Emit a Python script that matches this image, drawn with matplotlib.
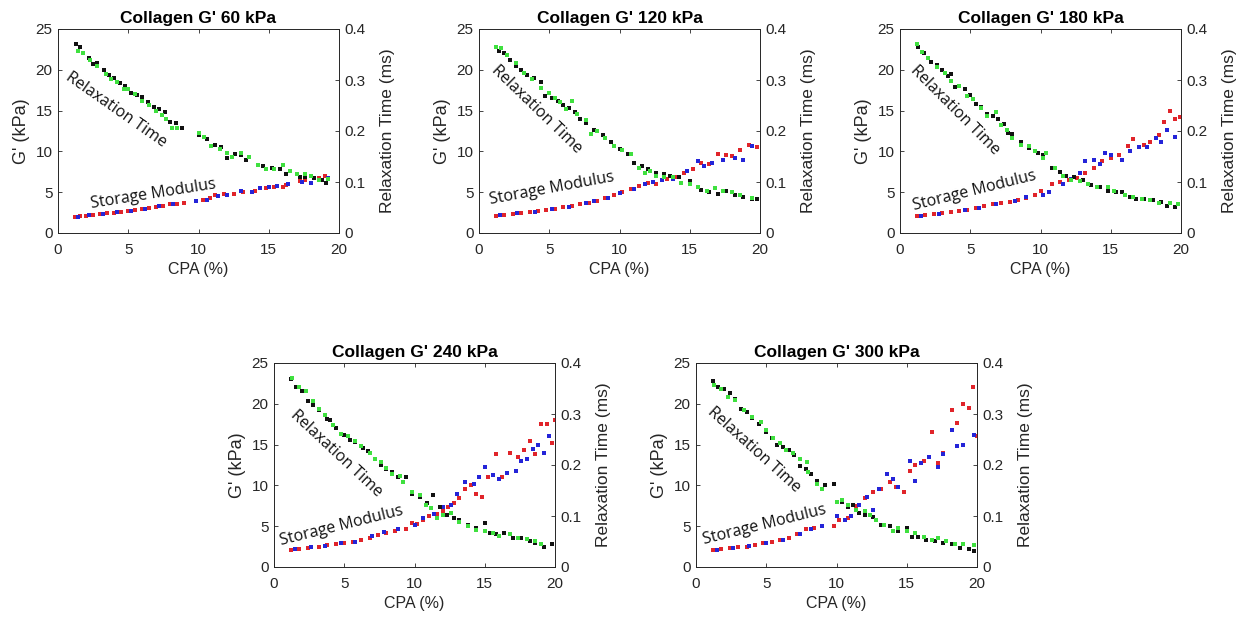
import matplotlib
matplotlib.use('Agg')
import matplotlib.pyplot as plt

plt.rcParams.update({
    'font.family': ['Liberation Sans', 'DejaVu Sans'],
    'font.size': 10,
    'axes.linewidth': 0.6,
    'xtick.direction': 'in',
    'ytick.direction': 'in',
})

C_RED = '#e0242a'
C_BLUE = '#2424d8'
C_GREEN = '#3fe03f'
C_BLACK = '#111111'
C_AX = '#262626'

TITLES = ["Collagen G' 60 kPa", "Collagen G' 120 kPa", "Collagen G' 180 kPa",
          "Collagen G' 240 kPa", "Collagen G' 300 kPa"]

# --- 60 kPa ---
P60_SM_RED_X = [1.2, 1.6, 2.0, 2.5, 3.0, 3.5, 4.0, 4.5, 5.0, 5.5, 6.0, 6.5, 7.0, 7.5, 8.0, 8.5, 9.0,
                10.3, 10.8, 11.2, 11.8, 12.5, 13.2, 14.0, 14.8, 15.4, 16.0, 16.2, 17.2, 17.6, 18.6, 19.0]
P60_SM_RED_Y = [2.0, 2.05, 2.1, 2.2, 2.3, 2.4, 2.5, 2.6, 2.7, 2.8, 2.95, 3.1, 3.2, 3.3, 3.5, 3.6, 3.7,
                4.0, 4.3, 4.6, 4.8, 4.8, 5.0, 5.2, 5.5, 5.6, 5.6, 5.9, 6.4, 6.5, 6.8, 7.0]
P60_SM_BLUE_X = [1.4, 2.2, 3.2, 4.2, 5.2, 6.2, 7.2, 8.2, 9.8, 10.6, 11.4, 12.0, 13.0, 13.8, 14.4,
                 15.0, 15.6, 16.4, 17.4, 18.0, 19.2]
P60_SM_BLUE_Y = [2.0, 2.15, 2.35, 2.55, 2.75, 3.0, 3.25, 3.6, 3.9, 4.1, 4.5, 4.7, 5.1, 5.0, 5.5,
                 5.6, 5.7, 6.0, 6.2, 6.1, 6.8]
P60_RT_BLACK_X = [1.3, 1.6, 2.2, 2.5, 2.8, 3.3, 3.6, 4.0, 4.4, 4.8, 5.2, 5.6, 6.0, 6.4, 6.8, 7.2, 7.6,
                  8.0, 8.4, 8.8, 10.0, 10.6, 11.2, 11.6, 12.0, 12.6, 13.0, 13.4, 14.6, 15.2, 15.8,
                  16.2, 17.2, 17.6, 18.2, 18.8, 19.1]
P60_RT_BLACK_Y = [0.370, 0.365, 0.344, 0.331, 0.333, 0.320, 0.309, 0.304, 0.294, 0.288, 0.275, 0.270,
                  0.267, 0.256, 0.248, 0.243, 0.237, 0.218, 0.216, 0.205, 0.192, 0.184, 0.173, 0.168,
                  0.147, 0.155, 0.152, 0.144, 0.131, 0.128, 0.125, 0.115, 0.109, 0.109, 0.107, 0.104,
                  0.099]
P60_RT_GREEN_X = [1.4, 1.8, 2.3, 2.8, 3.4, 3.8, 4.2, 4.7, 5.0, 5.5, 6.0, 6.5, 7.0, 7.4, 7.7, 8.1, 8.5,
                  10.0, 10.4, 10.9, 11.5, 12.0, 12.4, 13.0, 13.6, 14.2, 14.8, 15.4, 16.0, 16.5, 17.0,
                  17.6, 18.0, 18.6, 19.2]
P60_RT_GREEN_Y = [0.357, 0.352, 0.339, 0.328, 0.312, 0.301, 0.296, 0.282, 0.282, 0.272, 0.259, 0.251,
                  0.240, 0.232, 0.224, 0.205, 0.206, 0.197, 0.189, 0.170, 0.165, 0.157, 0.150, 0.157,
                  0.149, 0.134, 0.125, 0.126, 0.133, 0.122, 0.115, 0.115, 0.112, 0.104, 0.106]

# --- 120 kPa ---
P120_SM_RED_X = [1.2, 1.8, 2.4, 3.0, 3.6, 4.2, 4.8, 5.4, 6.0, 6.6, 7.2, 7.8, 8.4, 9.0, 9.6, 10.2, 10.8,
                 11.4, 12.0, 12.6, 13.4, 14.0, 14.6, 15.2, 15.8, 16.4, 17.0, 17.6, 18.0, 18.6, 19.2, 19.8]
P120_SM_RED_Y = [2.1, 2.2, 2.3, 2.45, 2.55, 2.65, 2.8, 2.95, 3.15, 3.3, 3.5, 3.7, 3.9, 4.3, 4.6, 5.0, 5.4,
                 5.7, 6.1, 6.0, 6.6, 6.9, 7.3, 7.8, 8.6, 8.5, 9.7, 9.5, 9.4, 10.2, 10.8, 10.6]
P120_SM_BLUE_X = [1.5, 2.7, 4.0, 5.2, 6.4, 7.6, 8.2, 9.2, 10.0, 11.0, 11.8, 12.4, 13.0, 13.8, 14.8,
                  15.6, 16.0, 16.6, 17.4, 18.2, 18.8, 19.4]
P120_SM_BLUE_Y = [2.15, 2.4, 2.6, 2.9, 3.2, 3.7, 3.9, 4.3, 4.9, 5.4, 6.0, 6.2, 6.5, 6.6, 7.6,
                  8.8, 8.2, 8.6, 9.0, 9.2, 9.0, 10.7]
P120_RT_BLACK_X = [1.4, 1.8, 2.2, 2.6, 3.0, 3.4, 3.9, 4.4, 4.7, 5.2, 5.6, 6.0, 6.4, 6.8, 7.2, 7.6, 8.2,
                   8.8, 9.4, 10.0, 10.6, 11.0, 11.6, 12.0, 12.6, 13.2, 13.6, 14.2, 15.0, 15.8, 16.4,
                   17.0, 17.6, 18.2, 18.8, 19.4, 19.8]
P120_RT_BLACK_Y = [0.357, 0.352, 0.339, 0.328, 0.320, 0.309, 0.304, 0.296, 0.269, 0.264, 0.259, 0.251,
                   0.245, 0.237, 0.224, 0.216, 0.202, 0.192, 0.179, 0.165, 0.154, 0.138, 0.131, 0.125,
                   0.117, 0.115, 0.112, 0.109, 0.101, 0.085, 0.080, 0.077, 0.082, 0.074, 0.070, 0.067,
                   0.067]
P120_RT_GREEN_X = [1.2, 1.6, 2.0, 2.6, 3.2, 3.8, 4.4, 5.0, 5.4, 5.8, 6.2, 6.6, 7.0, 7.6, 8.0, 8.4, 9.0,
                   9.6, 10.2, 10.8, 11.4, 11.8, 12.2, 12.6, 13.2, 13.8, 14.4, 15.0, 15.6, 16.2, 16.8,
                   17.4, 18.0, 18.6, 19.4]
P120_RT_GREEN_Y = [0.365, 0.362, 0.349, 0.333, 0.314, 0.301, 0.285, 0.275, 0.264, 0.256, 0.243, 0.259,
                   0.234, 0.222, 0.195, 0.200, 0.186, 0.170, 0.163, 0.154, 0.128, 0.118, 0.122, 0.112,
                   0.109, 0.110, 0.099, 0.096, 0.090, 0.083, 0.088, 0.082, 0.080, 0.074, 0.069]

# --- 180 kPa ---
P180_SM_RED_X = [1.2, 1.8, 2.4, 3.0, 3.6, 4.2, 4.8, 5.4, 6.0, 6.6, 7.2, 7.8, 8.4, 9.0, 9.6, 10.0, 10.8,
                 11.4, 12.0, 12.6, 13.2, 13.8, 14.4, 15.0, 15.6, 16.2, 16.6, 17.4, 17.8, 18.4, 18.8,
                 19.2, 19.6, 19.9]
P180_SM_RED_Y = [2.05, 2.15, 2.3, 2.4, 2.55, 2.7, 2.85, 3.1, 3.3, 3.5, 3.7, 3.8, 4.1, 4.3, 4.7, 5.1, 6.0,
                 6.2, 6.5, 6.8, 7.4, 8.0, 8.8, 9.2, 9.6, 10.7, 11.5, 10.8, 11.2, 12.0, 13.6,
                 15.0, 14.0, 14.2]
P180_SM_BLUE_X = [1.5, 2.8, 4.6, 5.6, 6.8, 8.2, 9.0, 10.2, 10.6, 11.6, 12.2, 12.8, 13.2, 13.8, 14.2,
                  14.6, 15.0, 15.8, 16.4, 17.0, 17.6, 18.2, 18.6, 19.0, 19.6]
P180_SM_BLUE_Y = [2.1, 2.35, 2.8, 3.1, 3.5, 3.9, 4.4, 4.6, 5.0, 6.0, 6.6, 7.3, 8.8, 9.0, 8.5,
                  9.8, 9.6, 9.0, 10.0, 10.6, 10.5, 11.6, 11.2, 12.6, 11.8]
P180_RT_BLACK_X = [1.3, 1.7, 2.2, 2.6, 3.0, 3.4, 3.6, 3.9, 4.6, 5.0, 5.4, 5.8, 6.2, 6.6, 7.0, 7.4, 7.7,
                   8.0, 8.6, 9.2, 9.8, 10.2, 10.8, 11.4, 11.8, 12.4, 13.0, 13.6, 14.2, 14.8, 15.4,
                   15.8, 16.4, 16.8, 17.4, 18.0, 18.6, 19.0, 19.6]
P180_RT_BLACK_Y = [0.365, 0.352, 0.336, 0.330, 0.320, 0.307, 0.312, 0.286, 0.282, 0.270, 0.253, 0.248,
                   0.234, 0.229, 0.224, 0.214, 0.197, 0.195, 0.178, 0.166, 0.157, 0.152, 0.128, 0.120,
                   0.112, 0.109, 0.104, 0.094, 0.090, 0.083, 0.080, 0.080, 0.070, 0.067, 0.067, 0.064,
                   0.061, 0.053, 0.051]
P180_RT_GREEN_X = [1.2, 1.6, 2.0, 2.6, 3.2, 3.6, 4.2, 4.8, 5.2, 5.8, 6.2, 6.8, 7.2, 7.6, 8.0, 8.6, 9.2,
                   9.6, 10.2, 10.4, 11.0, 11.6, 12.2, 12.8, 13.4, 14.0, 14.8, 15.2, 16.0, 16.6, 17.2,
                   17.8, 18.4, 19.2, 19.8]
P180_RT_GREEN_Y = [0.371, 0.355, 0.344, 0.326, 0.314, 0.298, 0.288, 0.269, 0.262, 0.246, 0.229, 0.238,
                   0.211, 0.202, 0.186, 0.173, 0.170, 0.160, 0.147, 0.157, 0.128, 0.112, 0.104, 0.102,
                   0.096, 0.090, 0.091, 0.083, 0.074, 0.070, 0.066, 0.064, 0.059, 0.058, 0.056]

# --- 240 kPa ---
P240_SM_RED_X = [1.2, 1.8, 2.4, 3.2, 3.8, 4.4, 5.0, 5.6, 6.2, 6.8, 7.4, 8.0, 8.6, 9.4, 9.8, 10.2, 10.6,
                 11.0, 11.6, 12.0, 12.4, 12.8, 13.2, 13.6, 14.0, 14.4, 14.8, 15.2, 15.8, 16.2, 16.8,
                 17.4, 17.8, 18.2, 18.6, 19.0, 19.4, 19.8, 20.0]
P240_SM_RED_Y = [2.1, 2.2, 2.35, 2.5, 2.65, 2.8, 3.0, 3.1, 3.3, 3.6, 3.9, 4.2, 4.4, 4.7, 5.4, 5.3, 5.8,
                 6.3, 6.5, 6.9, 7.4, 7.8, 8.4, 9.5, 10.0, 9.0, 8.6, 11.0, 13.8, 11.0, 14.0,
                 13.5, 14.3, 15.5, 13.8, 17.5, 17.5, 15.2, 18.0]
P240_SM_BLUE_X = [1.5, 2.6, 3.6, 4.8, 5.8, 7.0, 7.8, 8.8, 10.0, 10.6, 11.4, 12.0, 12.6, 13.0, 13.6,
                  14.2, 14.6, 15.0, 15.6, 16.0, 16.6, 17.2, 17.6, 18.0, 18.4, 18.8, 19.2, 19.6]
P240_SM_BLUE_Y = [2.15, 2.4, 2.6, 2.9, 3.1, 3.8, 4.3, 4.7, 5.2, 6.0, 6.5, 7.4, 7.6, 9.0, 10.4,
                  10.2, 11.0, 12.3, 11.3, 10.8, 11.5, 11.8, 13.0, 13.2, 14.5, 15.0, 14.0, 16.0]
P240_RT_BLACK_X = [1.2, 1.6, 2.0, 2.4, 2.8, 3.2, 3.8, 4.0, 4.4, 5.0, 5.4, 5.8, 6.3, 6.7, 7.2, 7.6, 8.0,
                   8.4, 8.8, 9.4, 9.8, 10.4, 10.9, 11.3, 11.8, 12.3, 12.8, 13.2, 13.8, 14.4, 15.0,
                   15.4, 15.8, 16.4, 17.0, 17.6, 18.2, 18.6, 19.2, 19.8]
P240_RT_BLACK_Y = [0.368, 0.352, 0.346, 0.325, 0.317, 0.307, 0.291, 0.288, 0.272, 0.259, 0.250, 0.245,
                   0.234, 0.227, 0.211, 0.200, 0.192, 0.186, 0.176, 0.176, 0.144, 0.138, 0.125, 0.141,
                   0.118, 0.101, 0.096, 0.093, 0.083, 0.077, 0.086, 0.066, 0.064, 0.067, 0.056, 0.056,
                   0.051, 0.048, 0.040, 0.046]
P240_RT_GREEN_X = [1.3, 1.8, 2.3, 2.8, 3.2, 3.6, 4.2, 4.8, 5.3, 5.8, 6.2, 6.8, 7.2, 7.6, 8.0, 8.4, 9.0,
                   9.2, 9.8, 10.4, 10.8, 11.2, 11.6, 12.0, 12.6, 13.2, 13.8, 14.4, 15.0, 15.6, 16.0,
                   16.8, 17.4, 18.0, 18.6, 19.0]
P240_RT_GREEN_Y = [0.371, 0.352, 0.346, 0.325, 0.310, 0.298, 0.278, 0.261, 0.256, 0.248, 0.237, 0.224,
                   0.211, 0.205, 0.195, 0.182, 0.179, 0.166, 0.147, 0.141, 0.122, 0.115, 0.096, 0.101,
                   0.106, 0.088, 0.080, 0.072, 0.070, 0.066, 0.061, 0.064, 0.056, 0.054, 0.051, 0.045]

# --- 300 kPa ---
P300_SM_RED_X = [1.2, 1.8, 2.4, 3.0, 3.6, 4.2, 4.8, 5.4, 6.0, 6.6, 7.2, 7.8, 8.4, 9.0, 9.8, 10.2, 10.8,
                 11.4, 12.0, 12.6, 13.2, 13.8, 14.2, 14.8, 15.2, 15.6, 16.2, 16.8, 17.2, 17.6, 18.2,
                 18.6, 19.0, 19.4, 19.7, 20.0]
P300_SM_RED_Y = [2.05, 2.15, 2.3, 2.4, 2.5, 2.7, 2.9, 3.1, 3.3, 3.6, 4.0, 4.6, 4.8, 5.0, 5.0, 5.8, 6.0,
                 7.5, 8.4, 9.2, 9.5, 10.4, 9.8, 9.2, 11.8, 12.5, 13.0, 16.6, 12.8, 14.0, 19.2,
                 17.6, 20.0, 19.5, 22.0, 16.0]
P300_SM_BLUE_X = [1.5, 2.6, 3.8, 5.0, 6.2, 7.4, 8.2, 9.0, 10.0, 10.6, 11.0, 11.6, 12.2, 12.6, 13.0,
                  13.6, 14.0, 14.4, 15.2, 15.6, 16.0, 16.6, 17.2, 17.6, 18.2, 18.6, 19.0, 19.8]
P300_SM_BLUE_Y = [2.1, 2.35, 2.6, 2.9, 3.3, 4.0, 4.6, 5.0, 6.2, 5.8, 6.3, 7.6, 8.6, 7.0, 9.6,
                  11.4, 10.8, 9.8, 13.0, 10.5, 12.8, 13.5, 12.2, 13.8, 16.8, 14.8, 15.0, 16.2]
P300_RT_BLACK_X = [1.2, 1.6, 2.0, 2.4, 2.8, 3.2, 3.6, 4.0, 4.5, 5.0, 5.4, 5.8, 6.2, 6.6, 7.0, 7.4, 7.8,
                   8.2, 8.6, 9.2, 9.8, 10.4, 10.8, 11.2, 11.6, 12.0, 12.6, 13.2, 13.8, 14.4, 15.0,
                   15.4, 15.8, 16.4, 17.0, 17.6, 18.2, 18.8, 19.4, 19.8]
P300_RT_BLACK_Y = [0.365, 0.352, 0.349, 0.342, 0.330, 0.309, 0.304, 0.293, 0.280, 0.264, 0.253, 0.240,
                   0.235, 0.230, 0.219, 0.198, 0.192, 0.182, 0.168, 0.160, 0.163, 0.128, 0.118, 0.122,
                   0.106, 0.101, 0.099, 0.083, 0.080, 0.070, 0.077, 0.058, 0.058, 0.053, 0.051, 0.048,
                   0.046, 0.038, 0.035, 0.032]
P300_RT_GREEN_X = [1.3, 1.8, 2.3, 2.8, 3.4, 4.0, 4.6, 5.0, 5.5, 6.0, 6.4, 6.9, 7.4, 7.9, 8.0, 8.6, 9.0,
                   10.0, 10.4, 10.8, 11.4, 12.0, 12.4, 12.8, 13.4, 14.0, 14.4, 15.0, 15.6, 16.2, 16.8,
                   17.2, 17.8, 18.4, 19.0, 19.8]
P300_RT_GREEN_Y = [0.357, 0.349, 0.333, 0.328, 0.307, 0.294, 0.285, 0.269, 0.253, 0.243, 0.230, 0.224,
                   0.211, 0.205, 0.186, 0.163, 0.152, 0.128, 0.131, 0.122, 0.112, 0.109, 0.102, 0.093,
                   0.083, 0.070, 0.077, 0.070, 0.067, 0.058, 0.053, 0.056, 0.051, 0.045, 0.046, 0.043]

PANELS = [
    (P60_SM_RED_X, P60_SM_RED_Y, P60_SM_BLUE_X, P60_SM_BLUE_Y,
     P60_RT_BLACK_X, P60_RT_BLACK_Y, P60_RT_GREEN_X, P60_RT_GREEN_Y),
    (P120_SM_RED_X, P120_SM_RED_Y, P120_SM_BLUE_X, P120_SM_BLUE_Y,
     P120_RT_BLACK_X, P120_RT_BLACK_Y, P120_RT_GREEN_X, P120_RT_GREEN_Y),
    (P180_SM_RED_X, P180_SM_RED_Y, P180_SM_BLUE_X, P180_SM_BLUE_Y,
     P180_RT_BLACK_X, P180_RT_BLACK_Y, P180_RT_GREEN_X, P180_RT_GREEN_Y),
    (P240_SM_RED_X, P240_SM_RED_Y, P240_SM_BLUE_X, P240_SM_BLUE_Y,
     P240_RT_BLACK_X, P240_RT_BLACK_Y, P240_RT_GREEN_X, P240_RT_GREEN_Y),
    (P300_SM_RED_X, P300_SM_RED_Y, P300_SM_BLUE_X, P300_SM_BLUE_Y,
     P300_RT_BLACK_X, P300_RT_BLACK_Y, P300_RT_GREEN_X, P300_RT_GREEN_Y),
]

# label placement (data coords on left axis) and rotation
RT_LABEL = [(4.15, 15.1, -35), (4.1, 15.1, -44), (3.9, 15.0, -45), (4.4, 13.9, -43), (4.1, 14.3, -42)]
SM_LABEL = [(6.75, 4.7, 9), (5.2, 5.5, 10.5), (5.3, 5.1, 14), (4.8, 5.0, 14), (4.9, 5.1, 14)]

# axes boxes in pixels: left, top (figure 1244x620)
W, H = 1244, 620
BOXES = [(58, 29), (479, 29), (900, 29), (274, 363), (696, 363)]
AW, AH = 281, 204

fig = plt.figure(figsize=(W / 100, H / 100), dpi=100)

for i, (box, data) in enumerate(zip(BOXES, PANELS)):
    rx, ry, bx, by, kx, ky, gx, gy = data
    l, t = box
    ax = fig.add_axes([l / W, (H - t - AH) / H, AW / W, AH / H])
    ax2 = ax.twinx()

    ax.scatter(rx, ry, s=11, marker='s', color=C_RED, linewidths=0, zorder=3)
    ax.scatter(bx, by, s=11, marker='s', color=C_BLUE, linewidths=0, zorder=3)
    ax2.scatter(kx, ky, s=11, marker='s', color=C_BLACK, linewidths=0, zorder=3)
    ax2.scatter(gx, gy, s=11, marker='s', color=C_GREEN, linewidths=0, zorder=3)

    ax.set_xlim(0, 20)
    ax.set_ylim(0, 25)
    ax2.set_ylim(0, 0.4)
    ax.set_xticks([0, 5, 10, 15, 20])
    ax.set_yticks([0, 5, 10, 15, 20, 25])
    ax2.set_yticks([0, 0.1, 0.2, 0.3, 0.4])
    ax2.set_yticklabels(['0', '0.1', '0.2', '0.3', '0.4'])

    ax.tick_params(axis='x', top=True, length=3, width=0.6, colors=C_AX, labelsize=11, pad=7)
    ax.tick_params(axis='y', length=3, width=0.6, colors=C_AX, labelsize=11, pad=4)
    ax2.tick_params(axis='y', length=3, width=0.6, colors=C_AX, labelsize=11, pad=4)
    for a in (ax, ax2):
        for sp in a.spines.values():
            sp.set_color(C_AX)
            sp.set_linewidth(0.6)

    ax.set_xlabel('CPA (%)', fontsize=11.5, color=C_AX, labelpad=4)
    ax.set_ylabel("G' (kPa)", fontsize=13, color=C_AX, labelpad=4)
    ax2.set_ylabel('Relaxation Time (ms)', fontsize=12.5, color=C_AX, labelpad=10)
    ax.set_title(TITLES[i], fontsize=12.5, fontweight='bold', color='black', pad=4)

    xt, yt, rt = RT_LABEL[i]
    ax.text(xt, yt, 'Relaxation Time', rotation=rt, rotation_mode='anchor',
            ha='center', va='center', fontsize=11.5, family=['Open Sans', 'DejaVu Sans'],
            color='#111111', zorder=5)
    xs, ys, rs = SM_LABEL[i]
    ax.text(xs, ys, 'Storage Modulus', rotation=rs, rotation_mode='anchor',
            ha='center', va='center', fontsize=11.5, family=['Open Sans', 'DejaVu Sans'],
            color='#111111', zorder=5)

fig.savefig('out.png', dpi=100)
